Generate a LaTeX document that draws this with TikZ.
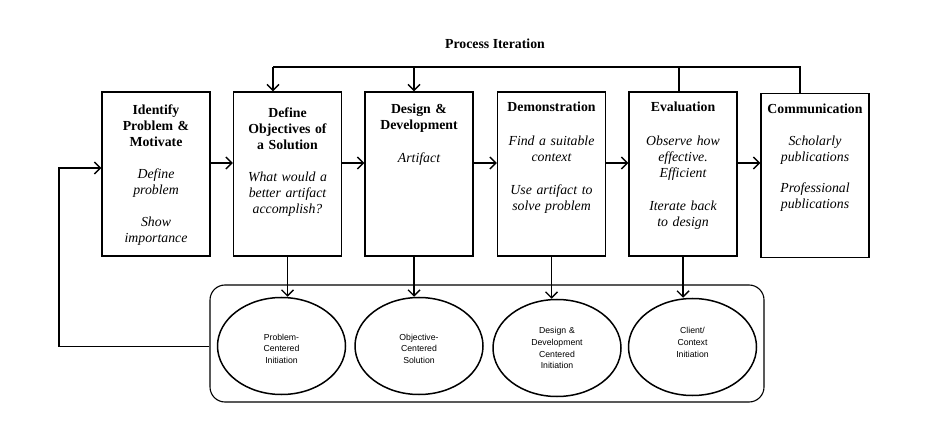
\documentclass[tikz,border=0pt]{standalone}
\usepackage{fontspec}
\setmainfont{Liberation Serif}
\newfontfamily\arialfont{Liberation Sans}
\usetikzlibrary{arrows.meta,positioning,shapes.geometric}

\begin{document}
\begin{tikzpicture}[x=1pt,y=-1pt,
  stage/.style={draw,line width=1.1pt,minimum width=108pt,minimum height=164pt,inner sep=0pt},
  stagetxt/.style={align=center,text width=106pt,inner sep=0pt,font=\fontsize{13.8}{16}\selectfont},
  entry/.style={ellipse,draw,line width=1.5pt,minimum width=128pt,minimum height=97pt,align=center,text width=90pt,inner sep=0pt,font=\arialfont\fontsize{8.7}{11.8}\selectfont},
  flow/.style={-{Straight Barb[length=6pt,width=12pt]},line width=1.4pt},
  link/.style={line width=1.4pt}]
  \useasboundingbox (0,0) rectangle (947,427);

  \node[font=\bfseries\fontsize{13.8}{16}\selectfont] (iter) at (495,44) {Process Iteration};

  % the six activities
  \node[stage] (idp) at (156,174) {};
  \node[stage] (obj) at (287.5,174) {};
  \node[stage] (dds) at (419,174) {};
  \node[stage] (dem) at (551.5,174) {};
  \node[stage] (eva) at (683,174) {};
  \node[stage] (com) at (815,175.5) {};

  \node[stagetxt,below=13.5pt of idp.north] (idpt) {{\bfseries Identify\\Problem \&\\Motivate}\\[16pt]{\itshape Define\\problem\\[16pt]Show\\importance}};
  \node[stagetxt,below=16.5pt of obj.north] (objt) {{\bfseries Define\\Objectives of\\a Solution}\\[16pt]{\itshape What would a\\better artifact\\accomplish?}};
  \node[stagetxt,below=12pt of dds.north] (ddst) {{\bfseries Design \&\\Development}\\[17pt]{\itshape Artifact}};
  \node[stagetxt,below=10pt of dem.north] (demt) {{\bfseries Demonstration}\\[18pt]{\itshape Find a suitable\\context\\[17pt]Use artifact to\\solve problem}};
  \node[stagetxt,below=10pt of eva.north] (evat) {{\bfseries Evaluation}\\[18pt]{\itshape Observe how\\effective.\\Efficient\\[17pt]Iterate back\\to design}};
  \node[stagetxt,below=10.5pt of com.north] (comt) {{\bfseries Communication}\\[16pt]{\itshape Scholarly\\publications\\[15pt]Professional\\publications}};

  \foreach \a/\b in {idp/obj,obj/dds,dds/dem,dem/eva,eva/com}
    \draw[flow] ([yshift=11pt]\a.east) -- ([yshift=11pt]\a.east -| \b.west);

%   %iteration
  \coordinate (itl) at (273,67);
  \coordinate (itd) at (414,67);
  \coordinate (ite) at (679,67);
  \coordinate (itr) at (800,67);
  \draw[link] (com.north -| itr) -- (itr) -- (itl);
  \draw[link] (eva.north -| ite) -- (ite);
  \draw[flow] (itl) -- (itl |- obj.north);
  \draw[flow] (itd) -- (itd |- dds.north);

%   %entry points
  \node[draw,line width=1.1pt,rounded corners=15pt,minimum width=554pt,minimum height=117pt] (ent) at (487,343.5) {};
  \node[entry] (pci) at (281.5,346) {\mbox{}\\Problem-\\Centered\\Initiation};
  \node[entry] (ocs) at (419,346) {\mbox{}\\Objective-\\Centered\\Solution};
  \node[entry] (dci) at (557,348) {Design \&\\Development\\Centered\\Initiation};
  \node[entry] (cci) at (692.5,347) {Client/\\Context\\Initiation\\[-2pt]\mbox{}};

  \draw[flow] (obj.south) -- (obj.south |- pci.north);
  \draw[flow] (itd |- dds.south) -- (itd |- ocs.north);
  \draw[flow] (dem.south) -- (dem.south |- dci.north);
  \draw[flow] (eva.south) -- (eva.south |- cci.north);

  \coordinate (fb) at (59,168);
  \draw[flow] ([yshift=-3pt]ent.west) -| (fb) -- (fb -| idp.west);
\end{tikzpicture}
\end{document}
